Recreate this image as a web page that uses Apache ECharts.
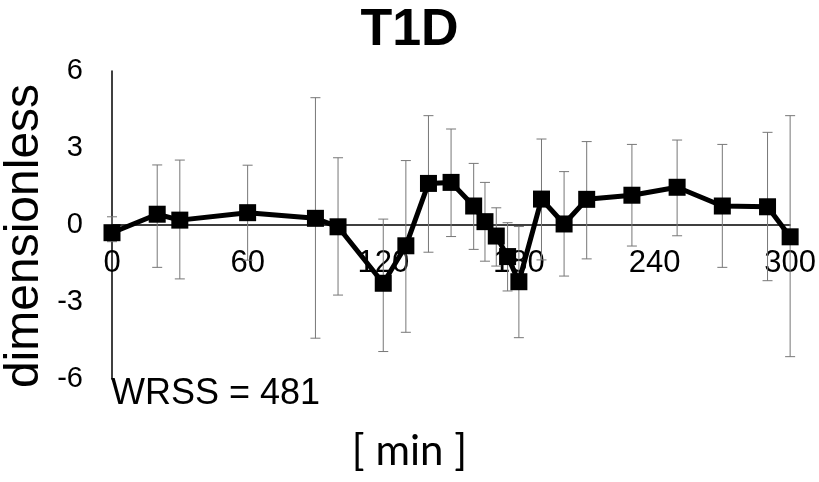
<!DOCTYPE html>
<html>
<head>
<meta charset="utf-8">
<script src="https://cdn.jsdelivr.net/npm/echarts@6/dist/echarts.min.js"></script>
<style>
  html, body { margin: 0; padding: 0; background: #fff; }
  #chart { width: 819px; height: 482px; }
</style>
</head>
<body>
<div id="chart"></div>
<script>
var times = [0, 20, 30, 60, 90, 100, 120, 130, 140, 150, 160, 165, 170, 175, 180, 190, 200, 210, 230, 250, 270, 290, 300];
var values = [-0.30, 0.42, 0.19, 0.48, 0.26, -0.07, -2.27, -0.81, 1.62, 1.66, 0.74, 0.13, -0.43, -1.23, -2.21, 1.01, 0.04, 1.00, 1.16, 1.47, 0.74, 0.71, -0.46];
var errHigh = [0.32, 2.34, 2.53, 2.33, 4.96, 2.62, 0.23, 2.51, 4.26, 3.74, 2.40, 1.66, 0.67, 0.09, -0.06, 3.35, 2.08, 3.25, 3.14, 3.31, 3.14, 3.61, 4.26];
var errLow = [-0.65, -1.65, -2.10, -1.37, -4.41, -2.73, -4.93, -4.18, -1.06, -0.45, -0.95, -1.41, -1.60, -2.57, -4.39, -1.36, -1.99, -1.32, -0.82, -0.42, -1.65, -2.17, -5.13];
var xTicks = [0, 60, 120, 180, 240, 300];
var yTicks = [-6, -3, 0, 3, 6];

var font = '"Liberation Sans", Arial, sans-serif';

var lineData = times.map(function (t, i) { return [t, values[i]]; });
var errData = times.map(function (t, i) { return [t, errLow[i], errHigh[i]]; });

var option = {
    animation: false,
    title: {
        text: 'T1D',
        left: 'center',
        top: 0,
        textStyle: { fontFamily: font, fontSize: 52, fontWeight: 'bold', color: '#000' }
    },
    grid: { left: 112, right: 28, top: 71, bottom: 103 },
    xAxis: {
        type: 'value',
        min: xTicks[0],
        max: xTicks[xTicks.length - 1],
        interval: 60,
        // axis sits on y = 0 (middle of the symmetric -6..6 range)
        offset: -154,
        axisLine: { onZero: false, lineStyle: { color: '#000', width: 1.5 } },
        axisTick: { show: false },
        splitLine: { show: false },
        axisLabel: { fontFamily: font, fontSize: 31, color: '#000', margin: 23 }
    },
    yAxis: {
        type: 'value',
        min: yTicks[0],
        max: yTicks[yTicks.length - 1],
        interval: 3,
        axisLine: { show: true, onZero: false, lineStyle: { color: '#000', width: 1.5 } },
        axisTick: { show: false },
        splitLine: { show: false },
        axisLabel: { fontFamily: font, fontSize: 29, color: '#000', margin: 29 }
    },
    graphic: [
        {
            type: 'text',
            x: 25, y: 236,
            rotation: Math.PI / 2,
            style: {
                text: 'dimensionless',
                fontFamily: font, fontSize: 48, fill: '#000',
                textAlign: 'center', textVerticalAlign: 'middle'
            }
        },
        {
            type: 'text',
            left: 'center', top: 430,
            style: {
                text: '[ min ]',
                fontFamily: 'Lato, "Open Sans", sans-serif', fontSize: 42, fill: '#000'
            }
        },
        {
            type: 'text',
            x: 111, y: 394,
            style: {
                text: 'WRSS = 481',
                fontFamily: font, fontSize: 36, fill: '#000',
                textVerticalAlign: 'middle'
            }
        }
    ],
    series: [
        {
            type: 'custom',
            z: 1,
            data: errData,
            encode: { x: 0, y: [1, 2] },
            renderItem: function (params, api) {
                var x = api.value(0);
                var lo = api.coord([x, api.value(1)]);
                var hi = api.coord([x, api.value(2)]);
                var cap = 5;
                var style = { stroke: '#777', lineWidth: 1 };
                return {
                    type: 'group',
                    children: [
                        { type: 'line', shape: { x1: lo[0], y1: lo[1], x2: hi[0], y2: hi[1] }, style: style },
                        { type: 'line', shape: { x1: hi[0] - cap, y1: hi[1], x2: hi[0] + cap, y2: hi[1] }, style: style },
                        { type: 'line', shape: { x1: lo[0] - cap, y1: lo[1], x2: lo[0] + cap, y2: lo[1] }, style: style }
                    ]
                };
            }
        },
        {
            type: 'line',
            z: 3,
            data: lineData,
            symbol: 'rect',
            symbolSize: 17,
            lineStyle: { color: '#000', width: 5 },
            itemStyle: { color: '#000' }
        }
    ]
};

var myChart = echarts.init(document.getElementById('chart'));
myChart.setOption(option);
</script>
</body>
</html>
